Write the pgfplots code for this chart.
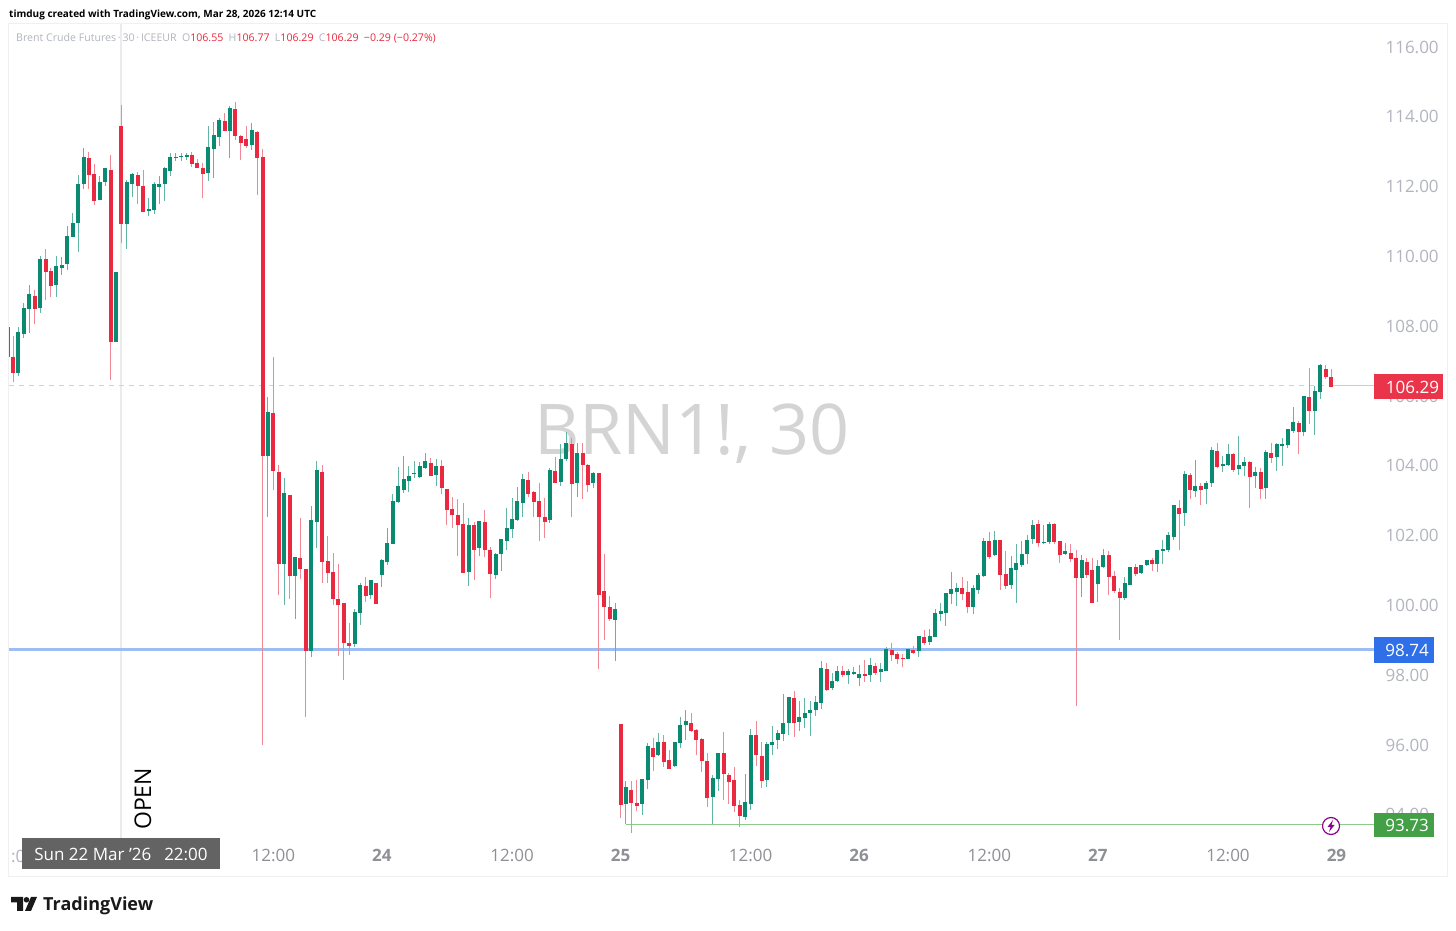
\documentclass[border=0pt]{standalone}
\usepackage{fontspec}
\usepackage{pgfplots}
\usepackage{pgfplotstable}
\pgfplotsset{compat=1.18}
\setmainfont{Open Sans}
\definecolor{cup}{HTML}{0A8A70}
\definecolor{cdn}{HTML}{E8293F}
\definecolor{wup}{HTML}{62B5A3}
\definecolor{wdn}{HTML}{F08794}
\definecolor{axgrey}{HTML}{B2B5BE}
\definecolor{axdark}{HTML}{8F9096}
\definecolor{lblue}{HTML}{9DBDF5}
\definecolor{bblue}{HTML}{2F6FE8}
\definecolor{lgreen}{HTML}{8CCB8C}
\definecolor{bgreen}{HTML}{43A047}
\definecolor{lorange}{HTML}{F9C96E}
\pgfplotstableread{
i o h l c
-1 107.97 107.97 107.13 107.13
0 107.13 107.72 106.39 106.67
1 106.67 107.99 106.58 107.80
2 107.78 108.66 107.66 108.51
3 108.49 109.18 107.80 108.90
4 108.87 109.04 108.07 108.51
5 108.51 110.02 108.37 109.90
6 109.93 110.21 108.75 109.57
7 109.59 109.66 108.83 109.18
8 109.17 110.02 108.83 109.71
9 109.68 109.98 109.47 109.74
10 109.77 110.87 109.61 110.55
11 110.55 111.24 110.55 110.95
12 110.95 112.34 110.13 112.04
13 112.08 113.10 111.93 112.83
14 112.82 112.98 111.92 112.36
15 112.36 112.65 111.46 111.62
16 111.62 112.29 111.62 112.10
17 112.12 112.53 112.02 112.51
18 112.48 112.91 106.46 107.57
19 107.56 109.53 107.56 109.53
20 113.74 114.34 110.38 110.95
21 110.94 112.19 110.21 112.11
22 112.08 112.38 111.69 112.33
23 112.33 112.43 111.50 112.05
24 112.03 112.48 111.27 111.28
25 111.31 111.67 111.16 111.34
26 111.32 112.14 111.22 112.04
27 112.00 112.29 111.50 112.06
28 112.06 112.55 111.60 112.51
29 112.46 112.96 112.29 112.83
30 112.82 112.96 112.73 112.84
31 112.84 112.97 112.72 112.87
32 112.86 112.96 112.76 112.89
33 112.91 113.00 112.55 112.67
34 112.69 112.78 112.52 112.54
35 112.54 112.69 111.68 112.39
36 112.38 113.75 112.17 113.10
37 113.07 113.86 112.24 113.47
38 113.43 113.96 113.15 113.88
39 113.89 114.10 113.58 113.60
40 113.60 114.31 112.81 114.22
41 114.22 114.41 113.34 113.47
42 113.44 113.48 112.76 113.28
43 113.36 113.75 113.10 113.18
44 113.18 113.81 113.05 113.59
45 113.57 113.58 111.76 112.83
46 112.86 113.07 96.00 104.31
47 104.28 105.98 102.54 105.53
48 105.51 107.11 103.31 103.86
49 103.82 104.03 100.30 101.21
50 101.19 103.66 100.01 103.21
51 103.17 103.17 100.18 100.85
52 100.85 101.38 99.62 101.36
53 101.35 102.50 100.77 101.06
54 101.05 101.05 96.79 98.72
55 98.70 102.86 98.53 102.43
56 102.40 104.14 101.64 103.85
57 103.83 104.03 100.63 101.26
58 101.27 101.99 100.65 100.94
59 100.96 101.49 100.01 100.21
60 100.19 101.18 98.56 100.04
61 100.06 100.06 97.85 98.95
62 98.93 99.49 98.57 98.85
63 98.88 99.89 98.80 99.79
64 99.79 100.63 99.43 100.56
65 100.56 100.81 100.11 100.30
66 100.30 100.73 100.18 100.72
67 100.63 100.65 100.04 100.05
68 100.87 101.33 100.52 101.27
69 101.23 102.21 101.16 101.78
70 101.77 103.18 101.77 102.97
71 102.95 103.96 102.93 103.39
72 103.30 104.28 103.23 103.61
73 103.55 104.00 103.26 103.68
74 103.76 104.14 103.64 103.78
75 103.69 104.11 103.67 103.97
76 103.94 104.36 103.93 104.11
77 104.08 104.22 103.72 103.73
78 103.73 104.19 103.42 103.97
79 103.98 104.17 103.19 103.37
80 103.33 103.33 102.31 102.76
81 102.75 103.11 102.23 102.60
82 102.59 103.04 101.42 102.32
83 102.32 102.92 100.92 100.94
84 100.96 102.51 100.56 102.29
85 102.29 102.38 100.73 101.60
86 101.65 102.42 101.42 102.40
87 102.39 102.73 101.38 101.60
88 101.59 101.68 100.22 100.91
89 100.88 101.49 100.77 101.46
90 101.48 101.87 100.98 101.87
91 101.85 102.78 101.59 102.21
92 102.19 103.07 101.92 102.46
93 102.46 103.38 102.44 102.96
94 102.92 103.76 102.54 103.59
95 103.59 103.81 103.11 103.20
96 103.24 103.29 102.52 102.99
97 102.99 103.52 101.85 102.54
98 102.53 103.07 101.92 102.42
99 102.44 103.93 102.37 103.86
100 103.86 104.26 103.51 103.53
101 103.53 104.62 103.43 104.18
102 104.19 104.96 104.14 104.62
103 104.62 104.81 102.54 103.51
104 103.51 104.66 103.11 104.35
105 104.37 104.64 103.04 104.03
106 104.02 104.04 103.26 103.48
107 103.50 103.81 103.37 103.76
108 103.78 103.80 98.17 100.31
109 100.40 101.47 99.01 99.97
110 99.94 100.27 99.56 99.63
111 99.57 100.08 98.41 99.89
112 96.60 96.60 93.92 94.31
113 94.31 94.98 93.73 94.77
114 94.71 94.98 93.47 94.36
115 94.34 95.00 94.12 94.26
116 94.32 95.02 93.99 95.01
117 94.99 96.07 94.74 95.94
118 95.90 96.20 95.26 95.67
119 95.70 96.35 95.69 96.06
120 96.08 96.28 95.38 95.54
121 95.57 95.85 95.33 95.33
122 95.39 96.09 95.38 96.07
123 96.07 96.79 95.91 96.56
124 96.57 97.00 96.14 96.66
125 96.63 96.91 96.36 96.43
126 96.43 96.45 95.71 96.15
127 96.16 96.19 95.23 95.55
128 95.54 95.76 94.21 94.49
129 94.51 95.14 93.73 95.03
130 95.02 95.76 94.69 95.76
131 95.76 96.38 94.42 95.18
132 95.13 95.19 94.31 94.97
133 95.01 95.36 94.07 94.28
134 94.27 94.42 93.64 93.99
135 93.94 95.16 93.85 94.36
136 94.32 96.45 94.14 96.28
137 96.28 96.69 95.41 95.74
138 95.69 96.08 94.76 94.98
139 95.00 96.09 94.79 96.00
140 96.00 96.54 95.71 96.07
141 96.13 96.43 95.89 96.31
142 96.32 97.45 96.12 96.60
143 96.63 97.35 96.28 97.35
144 97.36 97.55 96.24 96.65
145 96.67 97.27 96.41 96.78
146 96.76 97.34 96.48 96.91
147 96.91 97.26 96.26 96.97
148 97.00 97.40 96.83 97.21
149 97.21 98.41 97.02 98.18
150 98.19 98.36 97.55 97.60
151 97.63 98.05 97.57 97.82
152 97.82 98.26 97.80 98.11
153 98.13 98.26 97.96 98.03
154 98.01 98.19 97.76 98.09
155 98.04 98.24 98.03 98.06
156 97.93 98.29 97.70 98.02
157 98.03 98.43 97.81 98.01
158 98.00 98.48 97.80 98.26
159 98.26 98.36 98.00 98.07
160 98.09 98.34 97.80 98.15
161 98.11 98.81 98.11 98.72
162 98.71 98.93 98.41 98.59
163 98.60 98.67 98.32 98.48
164 98.49 98.62 98.24 98.47
165 98.47 98.76 98.47 98.74
166 98.72 98.83 98.60 98.67
167 98.69 99.10 98.51 99.09
168 99.08 99.29 98.87 98.95
169 98.95 99.31 98.86 99.11
170 99.10 99.91 99.10 99.75
171 99.74 100.08 99.54 99.81
172 99.78 100.36 99.42 100.34
173 100.33 100.95 100.03 100.44
174 100.38 100.65 99.98 100.48
175 100.49 100.80 100.15 100.35
176 100.38 100.70 99.77 99.96
177 99.94 100.57 99.76 100.47
178 100.45 100.94 100.32 100.84
179 100.84 101.92 100.82 101.82
180 101.85 102.10 101.34 101.41
181 101.44 102.12 101.43 101.85
182 101.87 101.87 100.44 100.88
183 100.91 101.56 100.48 100.58
184 100.57 101.41 100.48 101.05
185 101.02 101.75 100.08 101.20
186 101.16 101.85 101.09 101.45
187 101.47 102.02 101.20 101.86
188 101.89 102.46 101.76 102.28
189 102.32 102.46 101.66 101.82
190 101.78 102.30 101.77 101.81
191 101.82 102.40 101.75 102.32
192 102.32 102.37 101.77 101.85
193 101.85 101.85 101.22 101.47
194 101.47 101.80 101.44 101.53
195 101.49 101.75 101.24 101.36
196 101.37 101.58 97.12 100.81
197 100.79 101.44 100.25 101.29
198 101.24 101.37 100.78 100.88
199 101.01 101.35 100.07 100.08
200 100.62 101.30 100.09 101.12
201 101.09 101.61 101.06 101.41
202 101.44 101.56 100.30 100.82
203 100.84 100.99 100.36 100.44
204 100.38 100.49 99.01 100.22
205 100.21 100.80 100.15 100.61
206 100.58 101.11 100.58 101.09
207 101.09 101.20 100.85 100.92
208 100.93 101.15 100.89 101.13
209 101.17 101.30 101.15 101.27
210 101.30 101.36 100.98 101.20
211 101.20 101.58 100.95 101.58
212 101.56 101.87 101.20 101.60
213 101.58 102.09 101.54 101.99
214 101.97 102.85 101.86 102.85
215 102.80 103.02 101.59 102.64
216 102.64 103.85 102.28 103.75
217 103.74 103.80 103.05 103.32
218 103.28 104.16 103.11 103.41
219 103.41 103.50 102.89 103.33
220 103.33 103.56 102.90 103.50
221 103.51 104.53 103.38 104.42
222 104.42 104.64 103.93 103.99
223 103.99 104.28 103.83 104.04
224 104.03 104.63 104.01 104.31
225 104.34 104.36 103.83 103.91
226 103.91 104.85 103.74 104.00
227 103.99 104.26 103.72 104.10
228 104.11 104.15 102.80 103.70
229 103.70 103.97 103.35 103.79
230 103.81 103.93 103.05 103.36
231 103.36 104.45 103.05 104.38
232 104.36 104.64 104.07 104.25
233 104.26 104.66 103.86 104.59
234 104.58 104.79 103.99 104.60
235 104.59 105.02 104.50 105.02
236 104.99 105.69 104.93 105.24
237 105.23 105.29 104.34 105.00
238 104.97 106.00 104.85 105.98
239 105.96 106.81 105.20 105.58
240 105.56 106.29 104.87 106.11
241 106.10 106.92 105.92 106.88
242 106.78 106.90 106.50 106.55
243 106.55 106.77 106.29 106.29
}\candles
\tikzset{px/.style={x=1pt,y=-1pt,shift={(0pt,931pt)}}}
\begin{document}
\begin{tikzpicture}
\path[use as bounding box] (0pt,0pt) rectangle (1456pt,931pt);
\begin{scope}[px]
\fill[white] (0,0) rectangle (1456,931);
\draw[color=black!6,line width=1pt] (8.5,24) rectangle (1447,877);
\node[anchor=base west,inner sep=0pt,font=\fontsize{10}{12}\selectfont\bfseries,text=black] at (9,18) {timdug created with TradingView.com, Mar 28, 2026 12:14 UTC};
\node[anchor=center,inner sep=0pt,font=\fontsize{70}{74}\selectfont,text=black!17] at (692,434) {BRN1!, 30};
\end{scope}
\begin{axis}[
  at={(9pt,93pt)},anchor=south west,scale only axis,width=1366pt,height=814pt,
  xmin=-0.7375,xmax=251.106,ymin=93.335,ymax=116.659,
  axis line style={draw=none},
  major tick length=0pt,
  ytick={94,96,98,100,102,104,106,108,110,112,114,116},
  yticklabels={94.00,96.00,98.00,100.00,102.00,104.00,106.00,108.00,110.00,112.00,114.00,116.00},
  ytick pos=right,yticklabel pos=right,
  yticklabel style={anchor=west,xshift=7pt,yshift=0pt,font=\fontsize{17}{17}\selectfont,text=axgrey},
  xtick={48,68,92,112,136,156,180,200,224,244},
  xticklabels={12:00,\textbf{24},12:00,\textbf{25},12:00,\textbf{26},12:00,\textbf{27},12:00,\textbf{29}},
  xtick pos=bottom,
  xticklabel style={yshift=-8pt,font=\fontsize{17}{17}\selectfont,text=axdark},
  clip=true,
]
\addplot[no marks,color=black!8,line width=2pt] coordinates {(20,93.335) (20,116.659)};
\addplot[no marks,color=black!18,line width=1pt,dash pattern=on 5pt off 5pt] coordinates {(-0.7375,106.29) (243,106.29)};
\addplot[no marks,color=lorange,line width=1pt] coordinates {(243.3,106.29) (251.106,106.29)};
\addplot[no marks,color=lblue,line width=3.2pt] coordinates {(-0.7375,98.74) (251.106,98.74)};
\addplot[no marks,color=lgreen,line width=1.2pt] coordinates {(113,93.73) (251.106,93.73)};
% wicks
\addplot[draw=none,mark=none,x filter/.expression={\thisrow{c}>=\thisrow{o} ? x : nan},
  error bars/.cd,y dir=both,y explicit,error mark=none,error bar style={draw=wup,line width=1pt}]
  table[x=i,y=o,y error plus expr=\thisrow{h}-\thisrow{o},y error minus expr=\thisrow{o}-\thisrow{l}] {\candles};
\addplot[draw=none,mark=none,x filter/.expression={\thisrow{c}<\thisrow{o} ? x : nan},
  error bars/.cd,y dir=both,y explicit,error mark=none,error bar style={draw=wdn,line width=1pt}]
  table[x=i,y=o,y error plus expr=\thisrow{h}-\thisrow{o},y error minus expr=\thisrow{o}-\thisrow{l}] {\candles};
% bodies
\addplot[draw=none,mark=none,x filter/.expression={\thisrow{c}>=\thisrow{o} ? x : nan},
  error bars/.cd,y dir=plus,y explicit,error mark=none,error bar style={draw=cup,line width=4pt}]
  table[x=i,y=o,y error plus expr=\thisrow{c}-\thisrow{o}+0.02,y error minus expr=0] {\candles};
\addplot[draw=none,mark=none,x filter/.expression={\thisrow{c}<\thisrow{o} ? x : nan},
  error bars/.cd,y dir=minus,y explicit,error mark=none,error bar style={draw=cdn,line width=4pt}]
  table[x=i,y=o,y error plus expr=0,y error minus expr=\thisrow{o}-\thisrow{c}+0.02] {\candles};
\end{axis}
\begin{scope}[px]
% legend line
\node[anchor=base west,inner sep=0pt,font=\fontsize{10.6}{12}\selectfont,text=axgrey] at (16,42)
 {Brent Crude Futures\,·\,30\,·\,ICEEUR\enspace O\textcolor{cdn}{106.55}\enspace H\textcolor{cdn}{106.77}\enspace L\textcolor{cdn}{106.29}\enspace C\textcolor{cdn}{106.29}\enspace\textcolor{cdn}{−0.29 (−0.27\%)}};
% OPEN
\node[rotate=90,anchor=west,inner sep=0pt,font=\fontsize{23}{23}\selectfont,text=black] at (143,830) {OPEN};
% left partial tick
\node[anchor=west,inner sep=0pt,font=\fontsize{17}{17}\selectfont,text=axgrey] at (11,856) {:0};
% date tooltip
\fill[fill=black!61] (22,838) rectangle (220,869);
\node[anchor=center,inner sep=0pt,font=\fontsize{17}{17}\selectfont,text=white] at (121,854) {Sun 22 Mar '26\enspace\ 22:00};
% price boxes
\fill[fill=cdn!95!white] (1374,374) rectangle (1443,399);
\node[anchor=center,inner sep=0pt,font=\fontsize{17}{17}\selectfont,text=white] at (1412.5,387) {106.29};
\fill[fill=bblue] (1374,637) rectangle (1434,663);
\node[anchor=center,inner sep=0pt,font=\fontsize{17}{17}\selectfont,text=white] at (1407,650) {98.74};
\fill[fill=bgreen] (1374,813) rectangle (1434,837);
\node[anchor=center,inner sep=0pt,font=\fontsize{17}{17}\selectfont,text=white] at (1407,825) {93.73};
% bolt icon
\filldraw[fill=white,draw=violet!90!magenta,line width=1.2pt] (1331,826) circle (8.5);
\fill[violet!90!magenta] (1333,820) -- (1327.5,827) -- (1330.5,827) -- (1329,832) -- (1334.5,825) -- (1331.5,825) -- cycle;
% logo
\fill[black!90] (11,897) -- (23,897) -- (23,911) -- (17,911) -- (17,902.5) -- (11,902.5) -- cycle;
\fill[black!90] (26.5,899.8) circle (2.8);
\fill[black!90] (31,897) -- (37,897) -- (31,911) -- (25,911) -- cycle;
\node[anchor=base west,inner sep=0pt,font=\fontsize{18}{18}\selectfont\bfseries,text=black!90] at (43,911) {TradingView};
\end{scope}
\end{tikzpicture}
\end{document}
